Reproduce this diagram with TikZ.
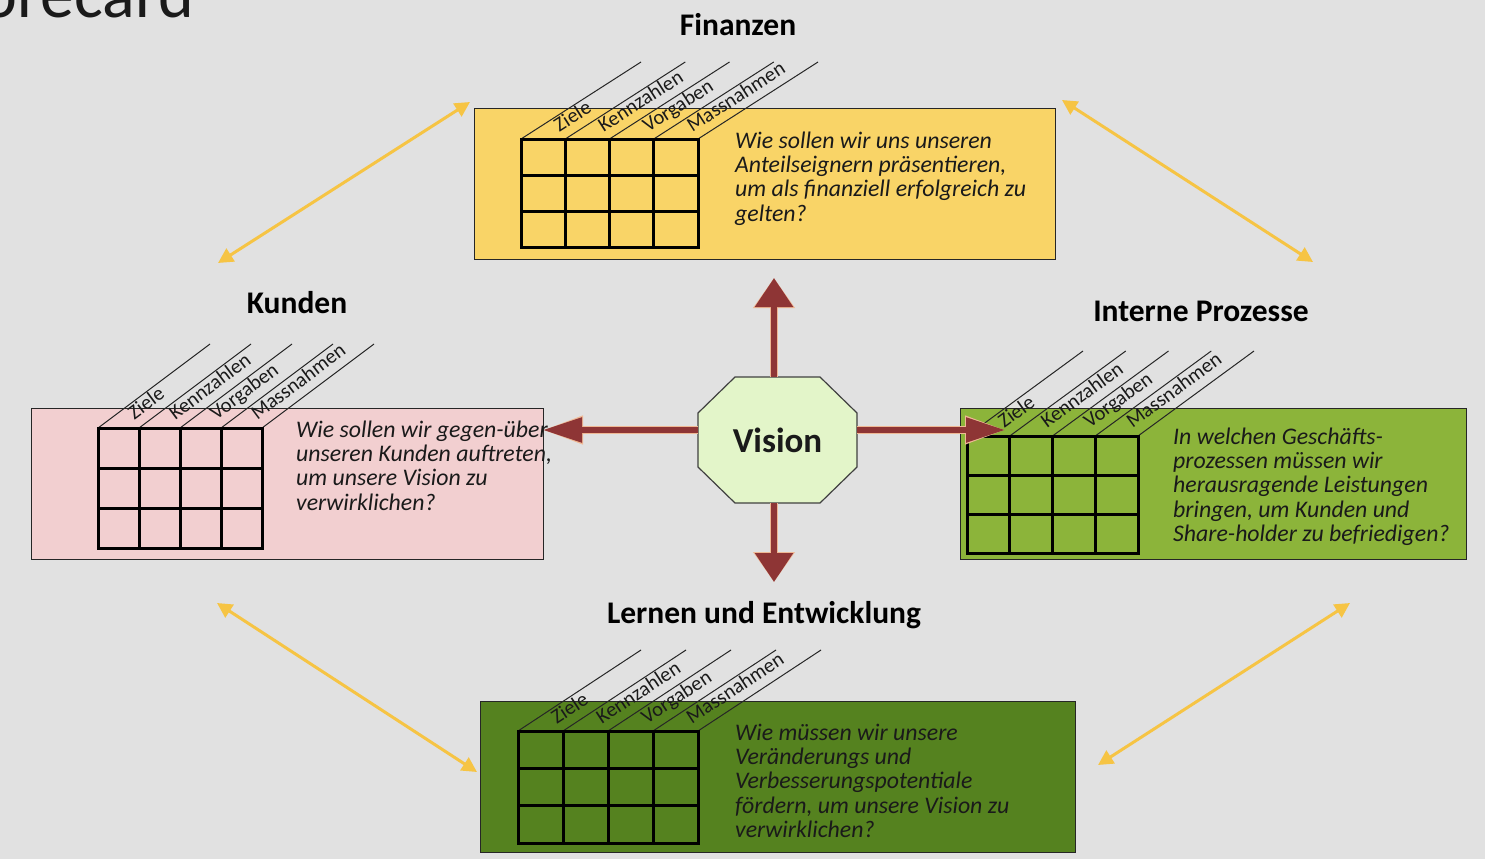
\documentclass[tikz,border=0pt]{standalone}
\usepackage{fontspec}
\setmainfont{Carlito}
\usetikzlibrary{arrows.meta,calc}

\definecolor{bgGray}{HTML}{E1E1E1}
\definecolor{titleInk}{HTML}{1A1A1A}
\definecolor{finFill}{HTML}{F9D467}
\definecolor{kunFill}{HTML}{F2CFD0}
\definecolor{proFill}{HTML}{8CB43A}
\definecolor{lerFill}{HTML}{55821F}
\definecolor{visFill}{HTML}{E3F5C9}
\definecolor{redArrow}{HTML}{8E3535}
\definecolor{glowArrow}{HTML}{EFB894}
\definecolor{goldArrow}{HTML}{F6C444}

% 4x3 scorecard grid with slanted column headers
% #1,#2 top-left corner, #3 cell width, #4 cell height, #5,#6 slant of the header lines
\newcommand{\scorepanel}[6]{%
  \begin{scope}[shift={(#1,#2)}]
    \pgfmathsetmacro{\pL}{veclen(#5,#6)}
    \pgfmathsetmacro{\pAng}{atan2(#6,#5)}
    \foreach \i in {0,...,4}{\draw[diagline] (\i*#3,0) -- ++(#5,-#6);}
    \foreach \i in {1,...,3}{\draw[gridline] (\i*#3,0) -- (\i*#3,3*#4);}
    \foreach \j in {1,2}{\draw[gridline] (0,\j*#4) -- (4*#3,\j*#4);}
    \draw[gridline] (0,0) rectangle (4*#3,3*#4);
    \foreach \lab [count=\k from 0] in {Ziele,Kennzahlen,Vorgaben,Massnahmen}{
      \node[colhead, rotate=\pAng] at ({(\k+0.5)*#3 + (17*#5 + 3.5*#6)/\pL}, {(-17*#6 + 3.5*#5)/\pL}) {\lab};
    }
  \end{scope}}

\begin{document}
\begin{tikzpicture}[x=1pt,y=-1pt,
  panelbox/.style={draw=black!85, line width=1.3pt, inner sep=0pt, anchor=north west},
  gridline/.style={draw=black, line width=3pt, line cap=rect},
  diagline/.style={draw=black!85, line width=1pt},
  colhead/.style={anchor=base west, inner sep=0pt, font=\fontsize{20.5}{21}\selectfont, text=titleInk},
  heading/.style={anchor=base, inner sep=0pt, font=\fontsize{31.5}{34}\selectfont\bfseries, text=black},
  question/.style={anchor=base west, inner sep=0pt, font=\fontsize{23.8}{24.4}\selectfont\itshape, text=titleInk},
  goldlink/.style={{Triangle[length=15pt,width=15pt]}-{Triangle[length=15pt,width=15pt]}, line width=3pt, draw=goldArrow},
  redglowv/.style={-{Triangle[length=30pt,width=40pt]}, line width=8pt, draw=glowArrow},
  redv/.style={-{Triangle[length=29pt,width=37pt]}, line width=6pt, draw=redArrow},
  redglowh/.style={-{Triangle[length=40pt,width=27pt]}, line width=7.5pt, draw=glowArrow},
  redh/.style={-{Triangle[length=39pt,width=24pt]}, line width=5.5pt, draw=redArrow}]

\useasboundingbox (0,0) rectangle (1485,859);
\clip (0,0) rectangle (1485,859);
\fill[bgGray] (0,0) rectangle (1485,859);

% page title, running off the top edge
\node[anchor=base east, inner sep=0pt, font=\fontsize{68}{72}\selectfont, text=titleInk] (title) at (194,18) {Balanced Scorecard};

% perspective headings
\node[heading] (finTitle) at (738,36) {Finanzen};
\node[heading] (kunTitle) at (297,313) {Kunden};
\node[heading] (proTitle) at (1201,321) {Interne Prozesse};
\node[heading] (lerTitle) at (764,623) {Lernen und Entwicklung};

% perspective boxes
\node[panelbox, fill=finFill, minimum width=581, minimum height=151] (finBox) at (474,108) {};
\node[panelbox, fill=kunFill, minimum width=512, minimum height=151] (kunBox) at (31,408) {};
\node[panelbox, fill=proFill, minimum width=506, minimum height=151] (proBox) at (960,408) {};
\node[panelbox, fill=lerFill, minimum width=595, minimum height=151] (lerBox) at (480,701) {};

% scorecard grids
\scorepanel{521}{139}{44.25}{36}{120}{77}
\scorepanel{98}{428}{41}{40}{112}{84}
\scorepanel{967}{436}{42.75}{39}{116}{85}
\scorepanel{518}{731}{45}{37.33}{123}{81}

% guiding questions
\node[question] (finText) at (735,148) {\begin{tabular}[t]{@{}l@{}}Wie sollen wir uns unseren\\Anteilseignern präsentieren,\\um als finanziell erfolgreich zu\\gelten?\end{tabular}};
\node[question] (kunText) at (296,437) {\begin{tabular}[t]{@{}l@{}}Wie sollen wir gegen-über\\unseren Kunden auftreten,\\um unsere Vision zu\\verwirklichen?\end{tabular}};
\node[question] (proText) at (1173,444) {\begin{tabular}[t]{@{}l@{}}In welchen Geschäfts-\\prozessen müssen wir\\herausragende Leistungen\\bringen, um Kunden und\\Share-holder zu befriedigen?\end{tabular}};
\node[question] (lerText) at (735,740) {\begin{tabular}[t]{@{}l@{}}Wie müssen wir unsere\\Veränderungs und\\Verbesserungspotentiale\\fördern, um unsere Vision zu\\verwirklichen?\end{tabular}};

% links between neighbouring perspectives
\coordinate (kunNE) at (218,263);
\coordinate (finW) at (470,102);
\coordinate (finE) at (1062,100);
\coordinate (proNW) at (1313,262);
\coordinate (kunSE) at (217,603);
\coordinate (lerW) at (477,772);
\coordinate (lerE) at (1098,765);
\coordinate (proSW) at (1350,603);
\draw[goldlink] (kunNE) -- (finW);
\draw[goldlink] (finE) -- (proNW);
\draw[goldlink] (kunSE) -- (lerW);
\draw[goldlink] (lerE) -- (proSW);

% vision octagon
\coordinate (visC) at (777.5,440);
\filldraw[fill=visFill, draw=black!75, line width=1.2pt]
  ($(visC)+(-42.5,-63)$) -- ($(visC)+(42.5,-63)$) -- ($(visC)+(79.5,-27)$) -- ($(visC)+(79.5,27)$)
  -- ($(visC)+(42.5,63)$) -- ($(visC)+(-42.5,63)$) -- ($(visC)+(-79.5,27)$) -- ($(visC)+(-79.5,-27)$) -- cycle;
\node[minimum width=159, minimum height=126, inner sep=0pt, font=\fontsize{35}{38}\selectfont\bfseries, text=titleInk] (vision) at (visC) {Vision};

% arrows from the vision to the four perspectives
\coordinate (upTip) at (774,278);
\coordinate (downTip) at (774,582);
\coordinate (leftTip) at (543,430);
\coordinate (rightTip) at (1005,430);
\draw[redglowv] ($(vision.north)+(-3.5,0)$) -- (upTip);
\draw[redv] ($(vision.north)+(-3.5,0)$) -- (upTip);
\draw[redglowv] ($(vision.south)+(-3.5,0)$) -- (downTip);
\draw[redv] ($(vision.south)+(-3.5,0)$) -- (downTip);
\draw[redglowh] ($(vision.west)+(0,-10)$) -- (leftTip);
\draw[redh] ($(vision.west)+(0,-10)$) -- (leftTip);
\draw[redglowh] ($(vision.east)+(0,-10)$) -- (rightTip);
\draw[redh] ($(vision.east)+(0,-10)$) -- (rightTip);
\end{tikzpicture}
\end{document}
